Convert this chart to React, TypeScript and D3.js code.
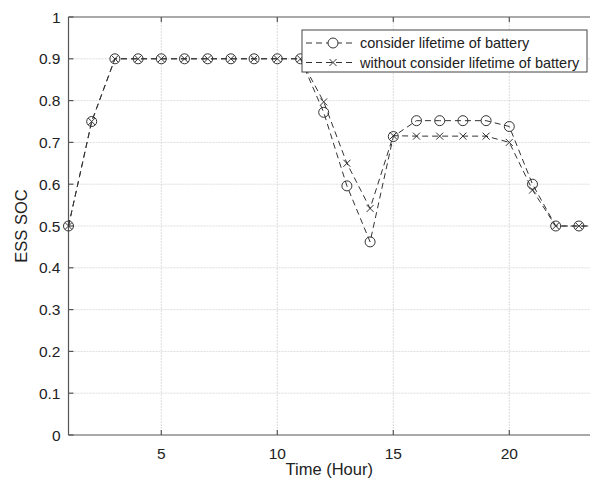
import { useEffect, useRef } from "react";
import * as d3 from "d3";

// hours and state of charge for both strategies
const hours = [1, 2, 3, 4, 5, 6, 7, 8, 9, 10, 11, 12, 13, 14, 15, 16, 17, 18, 19, 20, 21, 22, 23, 24];
const withLifetime = [0.5, 0.75, 0.9, 0.9, 0.9, 0.9, 0.9, 0.9, 0.9, 0.9, 0.9, 0.772, 0.596, 0.462, 0.714, 0.752, 0.752, 0.752, 0.752, 0.738, 0.6, 0.5, 0.5, 0.5];
const withoutLifetime = [0.5, 0.75, 0.9, 0.9, 0.9, 0.9, 0.9, 0.9, 0.9, 0.9, 0.9, 0.797, 0.65, 0.542, 0.716, 0.715, 0.715, 0.715, 0.715, 0.7, 0.586, 0.5, 0.5, 0.5];
const xTicks = [5, 10, 15, 20];
const yTicks = [0, 0.1, 0.2, 0.3, 0.4, 0.5, 0.6, 0.7, 0.8, 0.9, 1];
const legendLabels = ["consider lifetime of battery", "without consider lifetime of battery"];

const width = 590;
const height = 486;
const MARGIN = { top: 17, left: 68.5, bottom: 51 };
const FONT = "'Liberation Sans', Arial, sans-serif";
const INK = "#333";

export default function App() {
  const svgRef = useRef<SVGSVGElement | null>(null);

  useEffect(() => {
    const svg = d3.select(svgRef.current);
    svg.selectAll("*").remove();

    const x = d3.scaleLinear().domain([1, 24]).range([MARGIN.left, MARGIN.left + 23 * 23.2]);
    const y = d3.scaleLinear().domain([0, 1]).range([height - MARGIN.bottom, MARGIN.top]);
    const right = width + 20;

    // grid
    const grid = svg.append("g").attr("stroke", "#ddd").attr("stroke-width", 1).attr("stroke-dasharray", "2,1");
    grid.selectAll("line.v").data(xTicks).join("line")
      .attr("x1", (d) => x(d)).attr("x2", (d) => x(d))
      .attr("y1", y(0)).attr("y2", y(1));
    grid.selectAll("line.h").data(yTicks.slice(1, -1)).join("line")
      .attr("x1", x(1)).attr("x2", right)
      .attr("y1", (d) => y(d)).attr("y2", (d) => y(d));

    // axes frame
    const frame = svg.append("g").attr("stroke", "#555").attr("stroke-width", 1.2).attr("fill", "none");
    frame.append("line").attr("x1", x(1)).attr("x2", right).attr("y1", y(0)).attr("y2", y(0));
    frame.append("line").attr("x1", x(1)).attr("x2", right).attr("y1", y(1)).attr("y2", y(1));
    frame.append("line").attr("x1", x(1)).attr("x2", x(1)).attr("y1", y(0)).attr("y2", y(1));
    frame.selectAll("line.xt").data(xTicks).join("line")
      .attr("x1", (d) => x(d)).attr("x2", (d) => x(d))
      .attr("y1", y(0)).attr("y2", y(0) - 5);
    frame.selectAll("line.xt2").data(xTicks).join("line")
      .attr("x1", (d) => x(d)).attr("x2", (d) => x(d))
      .attr("y1", y(1)).attr("y2", y(1) + 5);
    frame.selectAll("line.yt").data(yTicks).join("line")
      .attr("x1", x(1)).attr("x2", x(1) + 5)
      .attr("y1", (d) => y(d)).attr("y2", (d) => y(d));

    // tick labels
    svg.append("g").selectAll("text").data(xTicks).join("text")
      .attr("x", (d) => x(d)).attr("y", y(0) + 24)
      .attr("text-anchor", "middle").attr("font-family", FONT).attr("font-size", 15.5).attr("fill", "#222")
      .text((d) => d);
    svg.append("g").selectAll("text").data(yTicks).join("text")
      .attr("x", x(1) - 8).attr("y", (d) => y(d) + 5.5)
      .attr("text-anchor", "end").attr("font-family", FONT).attr("font-size", 15.5).attr("fill", "#222")
      .text((d) => d3.format("~g")(d));

    // axis titles
    svg.append("text").attr("x", (x(1) + width) / 2).attr("y", 475)
      .attr("text-anchor", "middle").attr("font-family", FONT).attr("font-size", 16.5).attr("fill", "#222")
      .text("Time (Hour)");
    svg.append("text").attr("transform", `translate(27,${y(0.5)}) rotate(-90)`)
      .attr("text-anchor", "middle").attr("font-family", FONT).attr("font-size", 16.5).attr("fill", "#222")
      .text("ESS SOC");

    const line = d3.line<number>().x((_, i) => x(hours[i])).y((d) => y(d));
    const series = [withLifetime, withoutLifetime];

    series.forEach((vals, si) => {
      svg.append("path").datum(vals).attr("d", line)
        .attr("fill", "none").attr("stroke", INK).attr("stroke-width", 1).attr("stroke-dasharray", "6,4");
      const g = svg.append("g").attr("stroke", INK).attr("stroke-width", 1).attr("fill", "none");
      vals.forEach((v, i) => {
        const cx = x(hours[i]);
        const cy = y(v);
        if (si === 0) {
          g.append("circle").attr("cx", cx).attr("cy", cy).attr("r", 5);
        } else {
          g.append("path").attr("d", `M${cx - 3.5},${cy - 3.5}L${cx + 3.5},${cy + 3.5}M${cx - 3.5},${cy + 3.5}L${cx + 3.5},${cy - 3.5}`);
        }
      });
    });

    // legend
    const lg = svg.append("g").attr("transform", "translate(302,30)");
    lg.append("rect").attr("width", 285).attr("height", 42).attr("fill", "#fff").attr("stroke", "#444").attr("stroke-width", 1);
    legendLabels.forEach((label, i) => {
      const ly = 13 + i * 19.5;
      lg.append("line").attr("x1", 4).attr("x2", 50).attr("y1", ly).attr("y2", ly)
        .attr("stroke", INK).attr("stroke-width", 1).attr("stroke-dasharray", "6,4");
      if (i === 0) {
        lg.append("circle").attr("cx", 31).attr("cy", ly).attr("r", 5).attr("fill", "#fff").attr("stroke", INK);
      } else {
        lg.append("path").attr("d", `M27.5,${ly - 3.5}L34.5,${ly + 3.5}M27.5,${ly + 3.5}L34.5,${ly - 3.5}`).attr("stroke", INK);
      }
      lg.append("text").attr("x", 58).attr("y", ly + 5)
        .attr("font-family", FONT).attr("font-size", 14.5).attr("fill", "#222")
        .text(label);
    });
  }, []);

  return (
    <svg ref={svgRef} width={width} height={height} style={{ position: "absolute", left: 0, top: 0, background: "#fff" }} />
  );
}
